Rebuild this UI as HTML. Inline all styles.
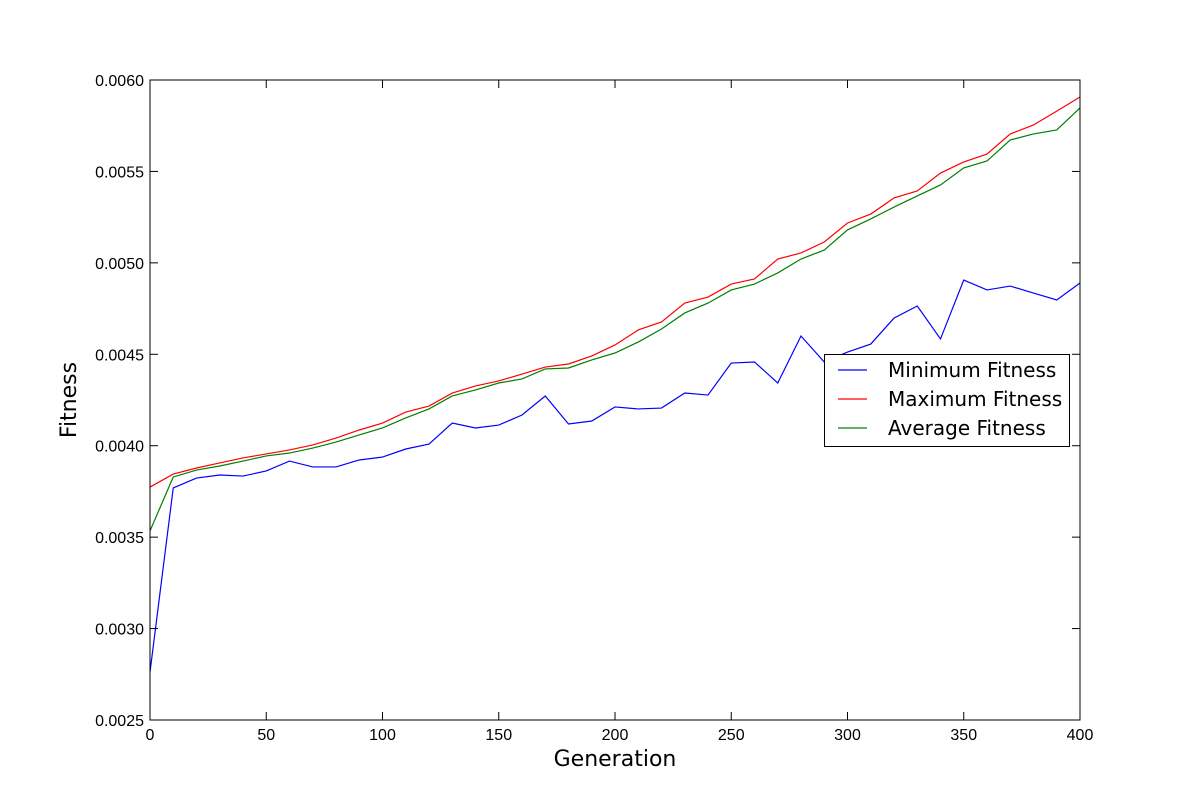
<!DOCTYPE html>
<html><head><meta charset="utf-8"><style>
body{margin:0;background:#fff;}
svg text{font-family:"DejaVu Sans","Liberation Sans",sans-serif;}
svg text.tick{font-family:"Liberation Sans","DejaVu Sans",sans-serif;}
</style></head><body>
<svg id="chart" width="1200" height="800" xmlns="http://www.w3.org/2000/svg"></svg>
<script>
const generations=[0,10,20,30,40,50,60,70,80,90,100,110,120,130,140,150,160,170,180,190,200,210,220,230,240,250,260,270,280,290,300,310,320,330,340,350,360,370,380,390,400];
// values in units of 1e-4
const minFitness=[27.62,37.69,38.23,38.40,38.34,38.62,39.16,38.84,38.84,39.22,39.38,39.82,40.09,41.24,40.97,41.13,41.68,42.72,41.19,41.35,42.12,42.01,42.06,42.88,42.77,44.52,44.58,43.43,46.0,44.58,45.12,45.56,46.98,47.64,45.84,49.06,48.52,48.73,48.35,47.97,48.90];
const maxFitness=[37.74,38.45,38.78,39.06,39.33,39.55,39.77,40.04,40.42,40.86,41.24,41.84,42.17,42.88,43.27,43.54,43.92,44.30,44.47,44.91,45.51,46.33,46.77,47.80,48.13,48.84,49.12,50.21,50.54,51.14,52.18,52.67,53.55,53.93,54.91,55.52,55.95,57.05,57.54,58.30,59.07];
const avgFitness=[35.34,38.29,38.67,38.89,39.16,39.44,39.60,39.87,40.20,40.59,40.97,41.52,42.01,42.72,43.05,43.43,43.65,44.20,44.25,44.69,45.07,45.67,46.38,47.26,47.80,48.52,48.84,49.45,50.21,50.70,51.80,52.40,53.05,53.66,54.26,55.19,55.57,56.72,57.05,57.27,58.47];
const xTicks=[0,50,100,150,200,250,300,350,400];
const yTicks=[25,30,35,40,45,50,55,60];
const yTickLabels=["0.0025","0.0030","0.0035","0.0040","0.0045","0.0050","0.0055","0.0060"];

const L=150,R=1080,T=80,B=720;
const xs=v=>L+(v-0)/400*(R-L);
const ys=v=>B-(v-25)/35*(B-T);
const svg=document.getElementById('chart');
const NS='http://www.w3.org/2000/svg';
function mk(t,a,p){const e=document.createElementNS(NS,t);for(const k in a)e.setAttribute(k,a[k]);(p||svg).appendChild(e);return e;}

function series(vals,color,name){
  const d=vals.map((v,i)=>(i?'L':'M')+xs(generations[i]).toFixed(2)+','+ys(v).toFixed(2)).join('');
  const p=mk('path',{d:d,fill:'none',stroke:color,'stroke-width':1.2});
  
  
}
series(minFitness,'#0000ff','minimum-fitness-line');
series(maxFitness,'#ff0000','maximum-fitness-line');
series(avgFitness,'#008000','average-fitness-line');

const frame=mk('rect',{x:L,y:T,width:R-L,height:B-T,fill:'none',stroke:'#000','stroke-width':1});



xTicks.forEach(v=>{
  const x=xs(v);
  mk('line',{x1:x,y1:B,x2:x,y2:B-8,stroke:'#000'});
  mk('line',{x1:x,y1:T,x2:x,y2:T+8,stroke:'#000'});
  const t=mk('text',{x:x,y:B+20,'text-anchor':'middle','font-size':16,'class':'tick'});
  t.textContent=v;
  
  
});
yTicks.forEach((v,i)=>{
  const y=ys(v);
  mk('line',{x1:L,y1:y,x2:L+8,y2:y,stroke:'#000'});
  mk('line',{x1:R,y1:y,x2:R-8,y2:y,stroke:'#000'});
  const t=mk('text',{x:L-6,y:y+6,'text-anchor':'end','font-size':16,'class':'tick'});
  t.textContent=yTickLabels[i];
  
  
});
const xt=mk('text',{x:(L+R)/2,y:766,'text-anchor':'middle','font-size':22});
xt.textContent='Generation';


const yt=mk('text',{x:76,y:400,'text-anchor':'middle','font-size':22,transform:'rotate(-90 76 400)'});
yt.textContent='Fitness';



const lg=mk('g',{});


mk('rect',{x:824.5,y:354.5,width:245,height:92,fill:'#fff',stroke:'#000','stroke-width':1},lg);
[['Minimum Fitness','#0000ff',370],['Maximum Fitness','#ff0000',399],['Average Fitness','#008000',428]].forEach(([lab,c,y])=>{
  const g=mk('g',{},lg);
  
  
  mk('line',{x1:838,y1:y,x2:867,y2:y,stroke:c,'stroke-width':1.2},g);
  const t=mk('text',{x:888,y:y+7,'font-size':20},g);
  t.textContent=lab;
});
</script>
</body></html>
